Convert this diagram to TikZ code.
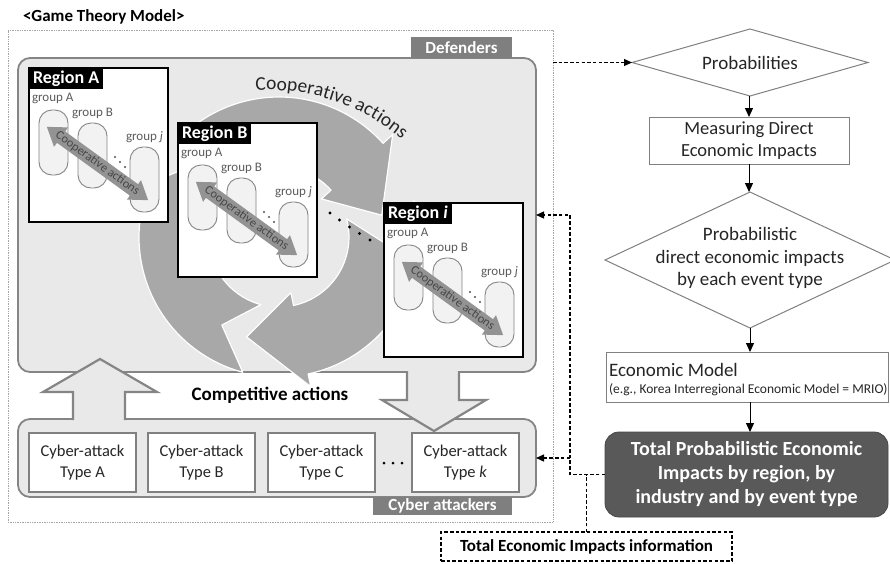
\documentclass[tikz,border=0pt]{standalone}
\usepackage{fontspec}
\setmainfont{Carlito}
\usetikzlibrary{arrows.meta,shapes.geometric,decorations.text,calc}

\definecolor{boxbg}{HTML}{E9E9E9}
\definecolor{boxline}{HTML}{858585}
\definecolor{tabgray}{HTML}{7F7F7F}
\definecolor{ringgray}{HTML}{A8A8A8}
\definecolor{pillbg}{HTML}{F2F2F2}
\definecolor{textdark}{HTML}{262626}
\definecolor{grouptext}{HTML}{5C5C5C}
\definecolor{darkbox}{HTML}{595959}
\definecolor{flowline}{HTML}{808080}

\newcommand\fsz[2]{\fontsize{#1}{#2}\selectfont}
% one clockwise segment of the cycle ring: tail angle, head base angle, tip angle
\newcommand\ringarrow[3]{%
  \filldraw[ringseg] (#1:140) arc[start angle=#1, end angle=#2, radius=140]
    -- (#2:153) -- (#3:105) -- (#2:57) -- (#2:70)
    arc[start angle=#2, end angle=#1, radius=70] -- ({#1-18}:105) -- cycle;}

\begin{document}
\begin{tikzpicture}[x=1pt,y=1pt,
  every node/.style={outer sep=0pt},
  frame/.style={draw=gray!70, dash pattern=on 0.8pt off 0.9pt, line width=0.8pt,
    minimum width=545pt, minimum height=492pt, inner sep=0pt},
  panel/.style={draw=boxline, fill=boxbg, line width=1.8pt, rounded corners=12pt, inner sep=0pt},
  tabbox/.style={fill=tabgray, text=white, font=\fsz{17}{20}\bfseries, inner sep=0pt},
  ringseg/.style={fill=ringgray, draw=white, line width=1.2pt, line join=round},
  regbox/.style={draw=black, fill=white, line width=1.4pt, minimum width=139pt,
    minimum height=154pt, inner sep=0pt, anchor=north west},
  regtab/.style={fill=black, text=white, font=\fsz{18}{20}\bfseries, minimum height=21pt,
    inner xsep=4pt, inner ysep=0pt, anchor=north west},
  pill/.style={draw=boxline, fill=pillbg, line width=0.9pt, rounded corners=13pt,
    minimum width=29pt, minimum height=65pt, anchor=north west, inner sep=0pt},
  grouplabel/.style={text=grouptext, font=\fsz{13}{15}, anchor=west, inner sep=0pt},
  coopsmall/.style={text=textdark!85, font=\fsz{12.5}{14}, inner sep=0pt},
  bigarrow/.style={draw=boxline, line width=2.2pt, line join=miter},
  attackbox/.style={draw=flowline, fill=white, line width=1.1pt, minimum width=107pt,
    minimum height=59pt, align=center, font=\fsz{16.5}{21}, text=textdark, inner sep=0pt},
  flowbox/.style={draw=flowline, fill=white, line width=1pt, inner sep=0pt, text=textdark},
  decision/.style={diamond, draw=flowline, fill=white, line width=1pt, inner sep=0pt},
  flowtext/.style={text=textdark, align=center, inner sep=0pt},
  flowarrow/.style={draw=black, line width=1pt, -{Triangle[length=9pt,width=8pt]}},
  dashline/.style={draw=black, line width=1.3pt, dash pattern=on 3.5pt off 2.2pt},
  dasharrow/.style={dashline, -{Triangle[length=8pt,width=7pt]}},
  region/.pic={
    \node[regbox] (-box) at (0,0) {};
    \node[regtab] (-tab) at (0,0) {#1};
    \node[grouplabel] (-la) at (3,-30) {group A};
    \node[pill] (-pa) at (10,-42) {};
    \node[grouplabel] (-lb) at (43,-45) {group B};
    \node[pill] (-pb) at (49,-55) {};
    \node[grouplabel] (-lj) at (97,-69) {group \textit{j}};
    \node[pill] (-pj) at (101,-79) {};
    \foreach \d in {0,1,2} \fill[textdark!80] (86+5*\d,-89-5*\d) circle (1.1);
    \begin{scope}[shift={(68.5,-95.5)}, rotate=-35.9]
      \shade[left color=gray!85, middle color=gray!45, right color=gray!85]
        (-62.5,0) -- (-45,12) -- (-45,7) -- (45,7) -- (45,12) -- (62.5,0)
        -- (45,-12) -- (45,-7) -- (-45,-7) -- (-45,-12) -- cycle;
    \end{scope}
    \node[coopsmall, rotate=-35.9] (-coop) at (68.5,-95.5) {Cooperative actions};
  }]

\useasboundingbox (0,0) rectangle (890,-563);

% ---- game theory model frame ----
\node[font=\fsz{17}{20}\bfseries, anchor=west, inner sep=0pt] (title) at (23,-17) {<Game Theory Model>};
\node[frame] (game) at (280.5,-276) {};

\node[panel, minimum width=518pt, minimum height=314pt] (def) at (277,-215) {};
\node[panel, minimum width=518pt, minimum height=78pt] (att) at (277,-458) {};
\node[tabbox, minimum width=101pt, minimum height=21pt] (deftab) at (461.5,-47.5) {Defenders};
\node[tabbox, minimum width=139pt, minimum height=18pt] (atttab) at (442.5,-506) {Cyber attackers};

% ---- cycle of cooperative actions ----
\begin{scope}[shift={(279,-237)}]
  \ringarrow{135}{42}{12}
  \ringarrow{15}{-78}{-108}
  \ringarrow{-105}{-198}{-228}
\end{scope}
\path[decorate, decoration={text along path, text align=center,
    text={|\fsz{19.5}{22}\color{textdark}|Cooperative actions}}]
  ([shift={(268,-296)}]97:206) arc[start angle=97, end angle=46, radius=206];

\pic (rA) at (29,-68) {region={Region A}};
\pic (rB) at (178,-123) {region={Region B}};
\pic (rI) at (384,-203) {region={Region \textit{i}}};
\foreach \p in {(330,-213),(339.5,-220),(349.5,-227),(359.5,-233.5),(370,-240)}
  \fill[black] \p circle (1.7);

% ---- competitive actions ----
\fill[boxbg] (73,-426) -- (73,-392) -- (43,-392) -- (100,-359) -- (157,-392)
  -- (125,-392) -- (125,-426) -- cycle;
\draw[bigarrow] (73,-420) -- (73,-392) -- (43,-392) -- (100,-359) -- (157,-392)
  -- (125,-392) -- (125,-420);
\fill[boxbg] (407,-366) -- (407,-400) -- (382,-400) -- (434,-431) -- (486,-400)
  -- (459,-400) -- (459,-366) -- cycle;
\draw[bigarrow] (407,-371) -- (407,-400) -- (382,-400) -- (434,-431) -- (486,-400)
  -- (459,-400) -- (459,-371);
\node[font=\fsz{19}{22}\bfseries, text=black, inner sep=0pt] (comp) at (270,-395) {Competitive actions};

% ---- cyber-attack types ----
\node[attackbox] (ca) at (82.5,-462.5) {Cyber-attack\\Type A};
\node[attackbox] (cb) at (201.5,-462.5) {Cyber-attack\\Type B};
\node[attackbox] (cc) at (321.5,-462.5) {Cyber-attack\\Type C};
\node[attackbox] (ck) at (465.5,-462.5) {Cyber-attack\\Type \textit{k}};
\foreach \x in {384,393,402} \fill[black] (\x,-463) circle (1.5);

% ---- economic impact flow ----
\node[decision, minimum width=236pt, minimum height=67pt] (prob) at (750,-62.5) {};
\node[flowtext, font=\fsz{19}{22}] (probtxt) at (prob) {Probabilities};
\node[flowbox, minimum width=200pt, minimum height=47pt, align=center,
  font=\fsz{18.5}{22}] (meas) at (749,-140.5) {Measuring Direct\\Economic Impacts};
\node[decision, minimum width=290pt, minimum height=136pt] (impact) at (750,-260) {};
\node[flowtext, font=\fsz{19}{22.3}] (impacttxt) at (750,-258)
  {Probabilistic\\direct economic impacts\\by each event type};
\node[flowbox, minimum width=282pt, minimum height=50pt] (econ) at (747,-377) {};
\node[flowtext, anchor=west, font=\fsz{19}{22}] (econtxt) at (609,-370) {Economic Model};
\node[flowtext, anchor=west, font=\fsz{13.5}{15}] (econnote) at (609,-390)
  {(e.g., Korea Interregional Economic Model = MRIO)};
\node[fill=darkbox, draw=darkbox!80!black, line width=0.8pt, rounded corners=14pt,
  minimum width=283pt, minimum height=85pt, text=white, font=\fsz{20}{24}\bfseries,
  align=center, inner sep=0pt] (total) at (746.5,-474.5)
  {Total Probabilistic Economic\\Impacts by region, by\\industry and by event type};

\draw[flowarrow] (prob.south -| meas.north) -- (meas.north);
\draw[flowarrow] (meas.south) -- (meas.south |- impact.north);
\draw[flowarrow] (impact.south) -- (impact.south |- econ.north);
\draw[flowarrow] (econ.south -| impact.south) -- (impact.south |- total.north);

% ---- feedback of total impacts ----
\node[dashline, minimum width=291pt, minimum height=29pt, inner sep=0pt,
  font=\fsz{17}{20}\bfseries] (info) at (586.5,-546.5) {Total Economic Impacts information};
\coordinate (bus) at (570,-474.5);
\draw[dasharrow] (game.east |- prob.west) -- (prob.west);
\draw[dasharrow] (total.west) -- (bus) |- (def.east);
\draw[dasharrow] (bus |- att.east) -- (att.east);
\draw[dashline] (info.north) -- (info.north |- total.west);
\end{tikzpicture}
\end{document}
